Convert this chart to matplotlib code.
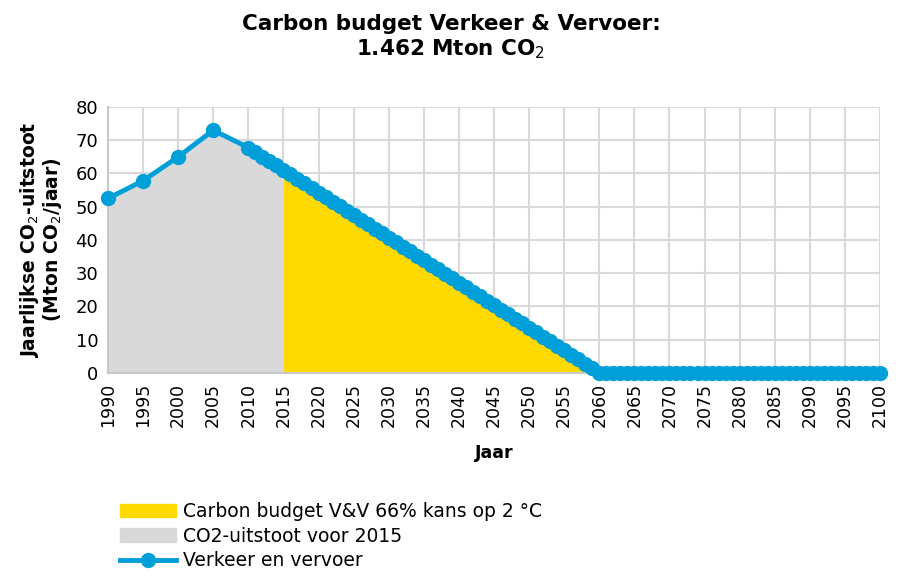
import numpy as np
import matplotlib
matplotlib.use("Agg")
from matplotlib import pyplot as plt
from matplotlib.patches import Patch
from matplotlib.lines import Line2D

# jaren en uitstoot (Mton CO2/jaar)
years_hist = [1990, 1995, 2000, 2005]
co2_hist = [52.5, 57.8, 65.0, 73.0]

years_path = list(range(2010, 2101))
co2_path = [67.8, 66.4, 65.1, 63.7, 62.4, 61.0, 59.7, 58.3, 57.0, 55.6,
            54.2, 52.9, 51.5, 50.2, 48.8, 47.5, 46.1, 44.7, 43.4, 42.0,
            40.7, 39.3, 38.0, 36.6, 35.3, 33.9, 32.5, 31.2, 29.8, 28.5,
            27.1, 25.8, 24.4, 23.1, 21.7, 20.3, 19.0, 17.6, 16.3, 14.9,
            13.6, 12.2, 10.8, 9.5, 8.1, 6.8, 5.4, 4.1, 2.7, 1.4,
            0.0] + [0.0] * 40

x_ticks = list(range(1990, 2101, 5))
y_ticks = list(range(0, 81, 10))

years = np.array(years_hist + years_path)
co2 = np.array(co2_hist + co2_path)

blue = '#009fda'
yellow = '#ffd900'
grey = '#d9d9d9'

fig = plt.figure(figsize=(9.02, 5.77), dpi=100)
ax = fig.add_axes([0.1197, 0.3536, 0.8559, 0.461])

m_grey = years <= 2015
m_yel = (years >= 2015) & (years <= 2060)
ax.fill_between(years[m_grey], 0, co2[m_grey], color=grey, lw=0, zorder=1)
ax.fill_between(years[m_yel], 0, co2[m_yel], color=yellow, lw=0, zorder=1)

ax.plot(years, co2, color=blue, lw=3.5, marker='o', ms=10, mec=blue, mfc=blue,
        zorder=3, clip_on=False)

ax.set_xlim(1990, 2100)
ax.set_ylim(0, 80)
ax.set_xticks(x_ticks)
ax.set_yticks(y_ticks)
ax.set_xticklabels([str(t) for t in x_ticks], rotation=90, fontsize=12.5)
ax.tick_params(axis='y', labelsize=13)
ax.tick_params(length=0, pad=7)
ax.grid(True, color=grey, lw=1.5, zorder=0)
ax.set_axisbelow(True)
for s in ['top', 'right']:
    ax.spines[s].set_visible(False)
for s in ['left', 'bottom']:
    ax.spines[s].set_color('#c8c8c8')
    ax.spines[s].set_linewidth(1.5)

ax.set_xlabel("Jaar", fontsize=12.5, fontweight='bold', labelpad=12)
ax.set_ylabel("Jaarlijkse CO$_2$-uitstoot\n(Mton CO$_2$/jaar)", fontsize=13.5,
              fontweight='bold', labelpad=8, linespacing=1.0)
fig.suptitle("Carbon budget Verkeer & Vervoer:\n1.462 Mton CO$_2$",
             fontsize=15.5, fontweight='bold', y=0.975, linespacing=1.15)

handles = [Patch(color=yellow), Patch(color=grey),
           Line2D([], [], color=blue, lw=3.5, marker='o', ms=10)]
labels = ["Carbon budget V&V 66% kans op 2 °C", "CO2-uitstoot voor 2015",
          "Verkeer en vervoer"]
fig.legend(handles, labels, loc='upper left', bbox_to_anchor=(0.133, 0.13),
           frameon=False, fontsize=13.5, handlelength=3, handletextpad=0.35,
           labelspacing=0.3, borderaxespad=0, borderpad=0)

plt.savefig("out.png", dpi=100)
